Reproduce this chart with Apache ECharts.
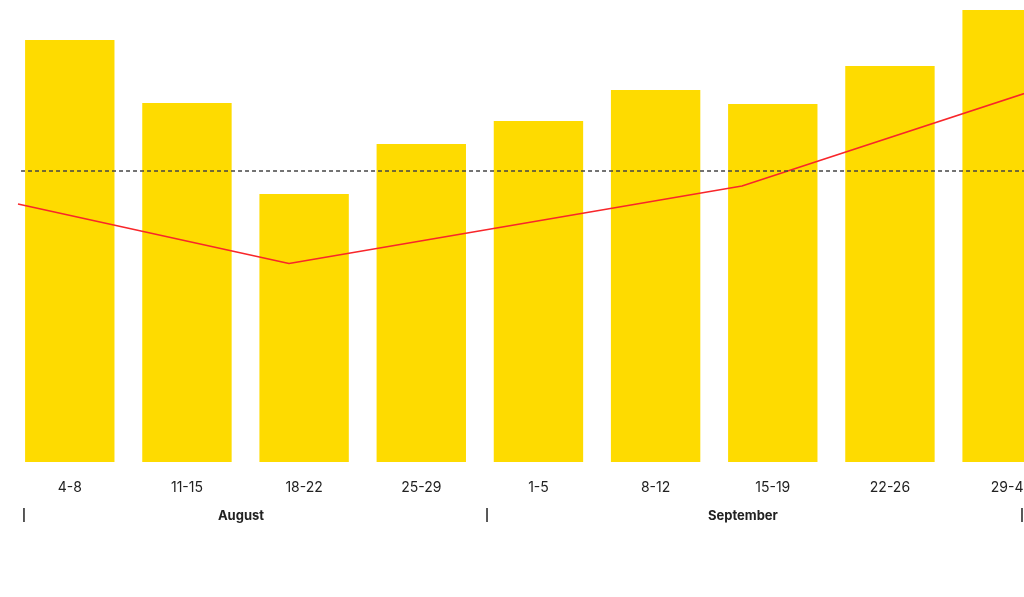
<!DOCTYPE html>
<html>
<head>
<meta charset="utf-8">
<script src="https://cdn.jsdelivr.net/npm/echarts@6/dist/echarts.min.js"></script>
<style>
html,body{margin:0;padding:0;background:#fff;}
#chart{width:1024px;height:597px;}
</style>
</head>
<body>
<div id="chart"></div>
<script>
// Data
const categories = ['4-8', '11-15', '18-22', '25-29', '1-5', '8-12', '15-19', '22-26', '29-4'];
const barValues = [422, 359, 268, 318, 341, 372, 358, 396, 452];
// trend line: [position in category-index units, value]
const trendX = [-0.442, 1.871, 5.737, 8.5];
const trendY = [258, 198.5, 276, 382];
const refLevel = 291;
const refStartX = -0.416;
const refEndX = 8.5;
// month groups: label, label centre (category-index units)
const months = ['August', 'September'];
const monthCenters = [1.461, 5.745];
const monthSeparators = [-0.391, 3.561, 8.127];

const chart = echarts.init(document.getElementById('chart'), null, {renderer: 'canvas'});

const option = {
  animation: false,
  backgroundColor: '#ffffff',
  grid: {left: 11.2, right: -41.7, top: 2, bottom: 135, containLabel: false, outerBoundsMode: 'none'},
  xAxis: [
    {
      type: 'category',
      data: categories,
      axisLine: {show: false},
      axisTick: {show: false},
      axisLabel: {color: '#222', fontFamily: 'Inter', fontSize: 14, margin: 19, interval: 0}
    },
    {
      type: 'value',
      min: -0.5,
      max: 8.5,
      show: false
    }
  ],
  yAxis: {
    type: 'value',
    min: 0,
    max: 460,
    show: false,
    splitLine: {show: false}
  },
  series: [
    {
      type: 'bar',
      data: barValues,
      xAxisIndex: 0,
      barCategoryGap: '23.7%',
      itemStyle: {color: '#FEDB00'},
      z: 1
    },
    {
      type: 'line',
      xAxisIndex: 1,
      data: trendX.map((x, i) => [x, trendY[i]]),
      symbol: 'none',
      lineStyle: {color: '#F8262A', width: 1.5},
      clip: false,
      z: 3,
      markLine: {
        silent: true,
        symbol: 'none',
        label: {show: false},
        lineStyle: {color: '#444', width: 1.5, type: [4, 3]},
        data: [[{coord: [refStartX, refLevel]}, {coord: [refEndX, refLevel]}]]
      }
    }
  ]
};
chart.setOption(option);

const graphics = [];
months.forEach((m, i) => {
  const px = chart.convertToPixel({xAxisIndex: 1}, monthCenters[i]);
  graphics.push({
    type: 'text',
    x: px, y: 516,
    style: {text: m, fill: '#222', font: 'bold 13px Inter', textAlign: 'center', textVerticalAlign: 'middle'}
  });
});
monthSeparators.forEach(s => {
  const px = chart.convertToPixel({xAxisIndex: 1}, s);
  graphics.push({
    type: 'rect',
    shape: {x: px - 0.75, y: 508, width: 1.5, height: 14},
    style: {fill: '#222'}
  });
});
chart.setOption({graphic: graphics});
</script>
</body>
</html>
